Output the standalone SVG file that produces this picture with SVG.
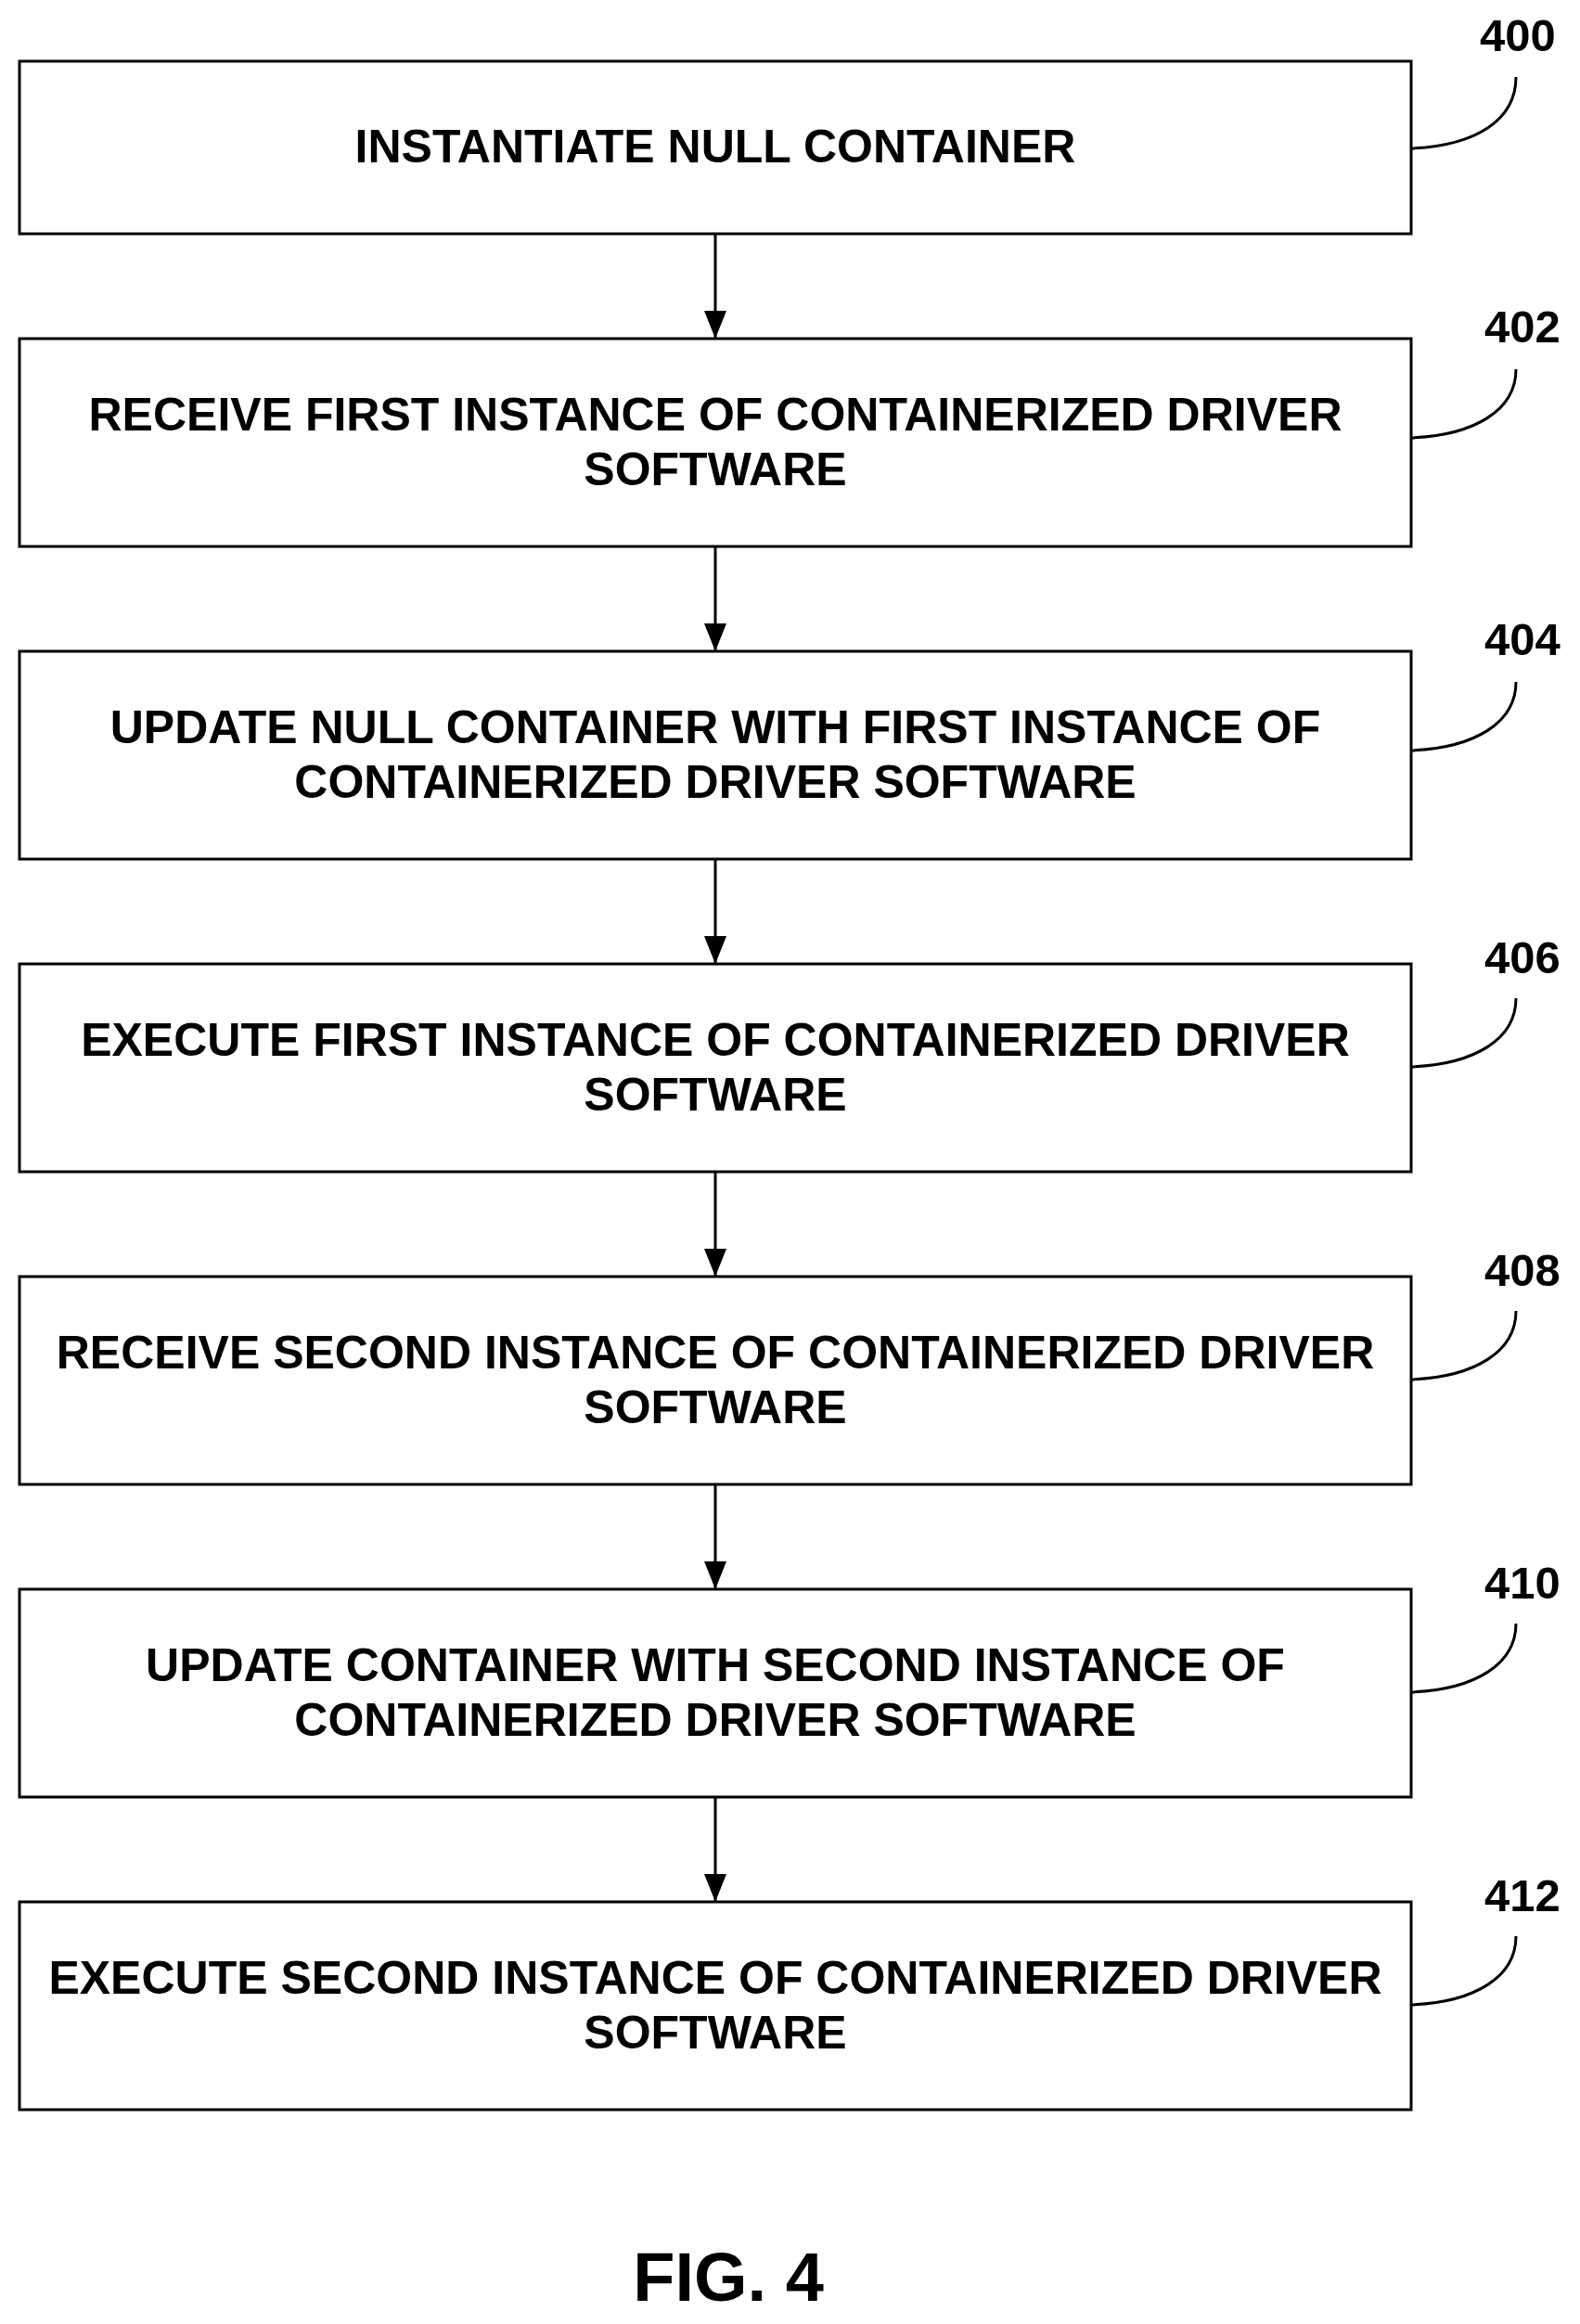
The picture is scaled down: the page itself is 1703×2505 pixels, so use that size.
<svg xmlns="http://www.w3.org/2000/svg" width="1703" height="2505" viewBox="0 0 1703 2505">
<style>
.b{fill:#fff;stroke:#000;stroke-width:3}
.t{font-family:"Liberation Sans",Arial,sans-serif;font-weight:bold;font-size:50px;text-anchor:middle;fill:#000}
.l{font-family:"Liberation Sans",Arial,sans-serif;font-weight:bold;font-size:49px;text-anchor:middle;fill:#000}
.c{fill:none;stroke:#000;stroke-width:3}
</style>
<defs>
<marker id="ah" viewBox="0 0 30 24" refX="30" refY="12" markerWidth="30" markerHeight="24" orient="auto" markerUnits="userSpaceOnUse"><path d="M0,0 L30,12 L0,24 z"/></marker></defs>
<rect width="1703" height="2505" fill="#fff"/>
<g id="n400"><rect class="b" x="21" y="66" width="1500" height="186"/><text class="t" x="771" y="175">INSTANTIATE NULL CONTAINER</text><text class="l" x="1636" y="55">400</text><path class="c" d="M1521,160 C1590,157 1634,130 1634,83"/></g>
<g id="n402"><rect class="b" x="21" y="365" width="1500" height="224"/><text class="t" x="771" y="464">RECEIVE FIRST INSTANCE OF CONTAINERIZED DRIVER</text><text class="t" x="771" y="523">SOFTWARE</text><text class="l" x="1641" y="369">402</text><path class="c" d="M1521,472 C1590,469 1634,442 1634,398"/></g>
<g id="n404"><rect class="b" x="21" y="702" width="1500" height="224"/><text class="t" x="771" y="801">UPDATE NULL CONTAINER WITH FIRST INSTANCE OF</text><text class="t" x="771" y="860">CONTAINERIZED DRIVER SOFTWARE</text><text class="l" x="1641" y="706">404</text><path class="c" d="M1521,809 C1590,806 1634,779 1634,735"/></g>
<g id="n406"><rect class="b" x="21" y="1039" width="1500" height="224"/><text class="t" x="771" y="1138">EXECUTE FIRST INSTANCE OF CONTAINERIZED DRIVER</text><text class="t" x="771" y="1197">SOFTWARE</text><text class="l" x="1641" y="1049">406</text><path class="c" d="M1521,1150 C1590,1147 1634,1120 1634,1076"/></g>
<g id="n408"><rect class="b" x="21" y="1376" width="1500" height="224"/><text class="t" x="771" y="1475">RECEIVE SECOND INSTANCE OF CONTAINERIZED DRIVER</text><text class="t" x="771" y="1534">SOFTWARE</text><text class="l" x="1641" y="1386">408</text><path class="c" d="M1521,1487 C1590,1484 1634,1457 1634,1413"/></g>
<g id="n410"><rect class="b" x="21" y="1713" width="1500" height="224"/><text class="t" x="771" y="1812">UPDATE CONTAINER WITH SECOND INSTANCE OF</text><text class="t" x="771" y="1871">CONTAINERIZED DRIVER SOFTWARE</text><text class="l" x="1641" y="1723">410</text><path class="c" d="M1521,1824 C1590,1821 1634,1794 1634,1750"/></g>
<g id="n412"><rect class="b" x="21" y="2050" width="1500" height="224"/><text class="t" x="771" y="2149">EXECUTE SECOND INSTANCE OF CONTAINERIZED DRIVER</text><text class="t" x="771" y="2208">SOFTWARE</text><text class="l" x="1641" y="2060">412</text><path class="c" d="M1521,2161 C1590,2158 1634,2131 1634,2087"/></g>
<g id="connectors" stroke="#000" stroke-width="3">
<line x1="771" y1="252" x2="771" y2="365" marker-end="url(#ah)"/>
<line x1="771" y1="589" x2="771" y2="702" marker-end="url(#ah)"/>
<line x1="771" y1="926" x2="771" y2="1039" marker-end="url(#ah)"/>
<line x1="771" y1="1263" x2="771" y2="1376" marker-end="url(#ah)"/>
<line x1="771" y1="1600" x2="771" y2="1713" marker-end="url(#ah)"/>
<line x1="771" y1="1937" x2="771" y2="2050" marker-end="url(#ah)"/>
</g>
<text x="785" y="2480" style="font-family:'Liberation Sans',Arial,sans-serif;font-weight:bold;font-size:74px;text-anchor:middle">FIG. 4</text>
</svg>
